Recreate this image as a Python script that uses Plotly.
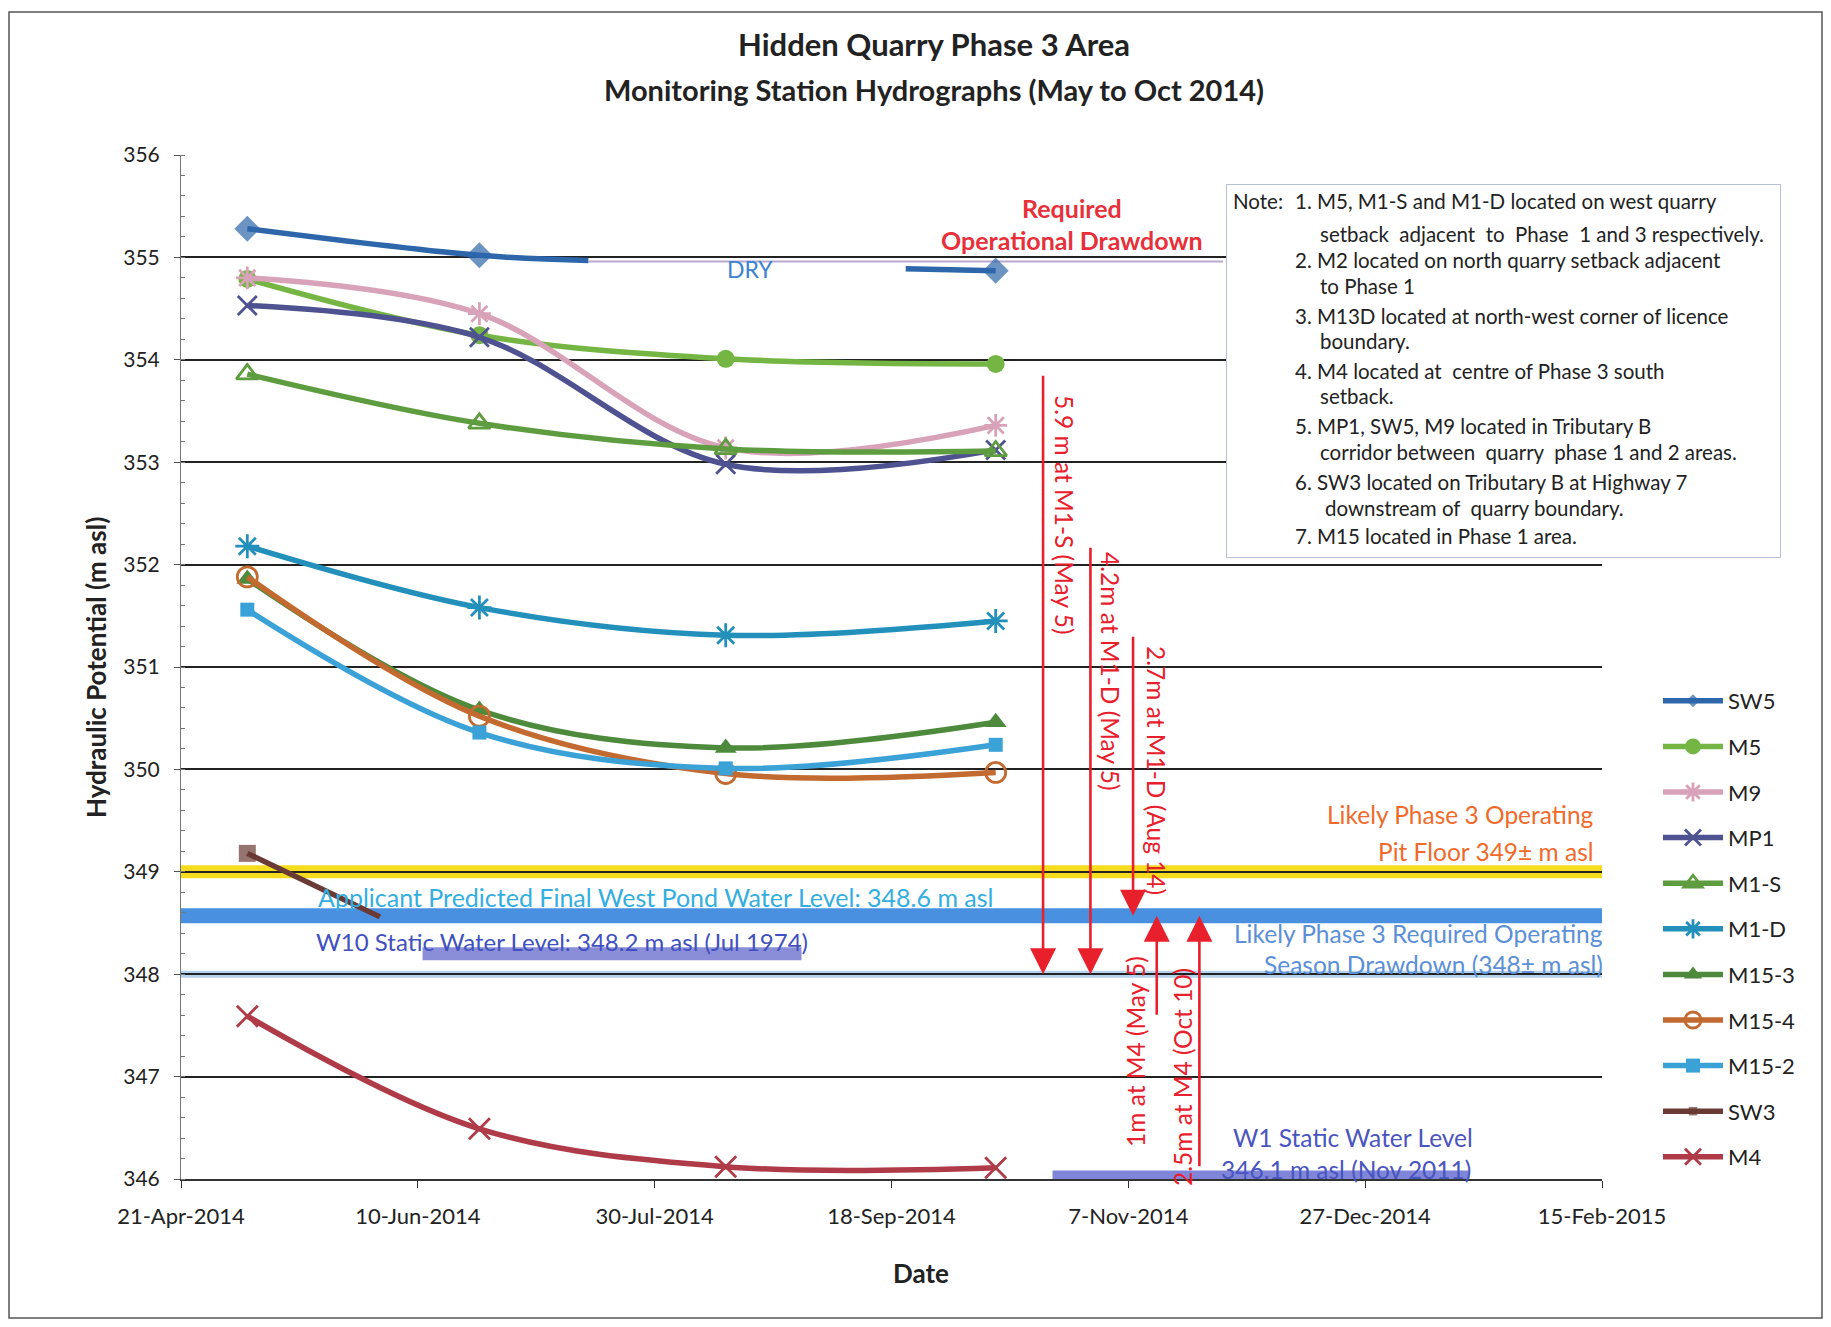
import plotly.graph_objects as go

# ---------------- data ----------------
DATES = ["2014-05-05", "2014-06-23", "2014-08-14", "2014-10-10"]

SW5_X = ["2014-05-05", "2014-06-23", "2014-07-16", None, "2014-09-21", "2014-10-10"]
SW5_Y = [355.28, 355.02, 354.97, None, 354.89, 354.87]
M5 = [354.79, 354.24, 354.01, 353.96]
M9 = [354.80, 354.45, 353.14, 353.36]
MP1 = [354.53, 354.22, 352.98, 353.12]
M1S = [353.86, 353.38, 353.13, 353.11]
M1D = [352.18, 351.58, 351.31, 351.45]
M15_3 = [351.86, 350.58, 350.21, 350.46]
M15_4 = [351.88, 350.52, 349.96, 349.97]
M15_2 = [351.56, 350.36, 350.01, 350.24]
SW3_X = ["2014-05-05", "2014-06-02"]
SW3_Y = [349.18, 348.56]
M4 = [347.59, 346.49, 346.12, 346.11]

# reference levels
PIT_FLOOR = 349.0
POND_LEVEL = 348.57
DRAWDOWN_LEVEL = 348.0
W10_LEVEL = 348.2
W10_X = ["2014-06-11", "2014-08-30"]
W1_LEVEL = 346.03
W1_X = ["2014-10-22", "2015-01-18"]
DRY_X = ["2014-07-16", "2014-11-27"]
DRY_Y = 354.96

# drawdown arrows: date, from, to
ARROW_X = ["2014-10-20", "2014-10-30", "2014-11-08", "2014-11-13", "2014-11-22"]
ARROW_FROM = [M1S[0], M1D[0], M1D[2], M4[0], M4[3]]
ARROW_TO = [DRAWDOWN_LEVEL, DRAWDOWN_LEVEL, POND_LEVEL, POND_LEVEL, POND_LEVEL]

X_TICKS = ["2014-04-21", "2014-06-10", "2014-07-30", "2014-09-18",
           "2014-11-07", "2014-12-27", "2015-02-15"]
X_TICK_TEXT = ["21-Apr-2014", "10-Jun-2014", "30-Jul-2014", "18-Sep-2014",
               "7-Nov-2014", "27-Dec-2014", "15-Feb-2015"]
Y_RANGE = [346, 356]

# ---------------- layout helpers ----------------
OFF = 8  # page body margin
PAGE_W, PAGE_H = 1831, 1327
PL, PR, PT, PB = 181, 1602, 155, 1179  # plot area in page pixels
W, H = PAGE_W - OFF, PAGE_H - OFF
FONT = "Lato"


def px(x):
    return (x - PL) / (PR - PL)


def py(y):
    return (PB - y) / (PB - PT)


fig = go.Figure()


def add_series(name, x, y, color, symbol, size, open_marker=False, lw=5.5,
               shape="spline", sizes=None):
    marker = dict(symbol=symbol, size=sizes if sizes is not None else size, color=color)
    if open_marker:
        marker["line"] = dict(color=color, width=2.8)
    else:
        marker["line"] = dict(width=0)
    fig.add_trace(go.Scatter(
        x=x, y=y, name=name, mode="lines+markers",
        line=dict(color=color, width=lw, shape=shape, smoothing=1.0),
        marker=marker, legendgroup=name, connectgaps=False))


sw5_sizes = [20 if d in DATES else 0 for d in SW5_X]
add_series("SW5", SW5_X, SW5_Y, "#2d66aa", "diamond", 20, sizes=sw5_sizes)
add_series("M5", DATES, M5, "#74b544", "circle", 18)
add_series("M9", DATES, M9, "#d8a2b8", "asterisk-open", 19, open_marker=True)
add_series("MP1", DATES, MP1, "#4f5290", "x-thin-open", 19, open_marker=True)
add_series("M1-S", DATES, M1S, "#5e9c40", "triangle-up-open", 19, open_marker=True)
add_series("M1-D", DATES, M1D, "#2290ba", "asterisk-open", 20, open_marker=True)
add_series("M15-3", DATES, M15_3, "#4e8a3b", "triangle-up", 19)
add_series("M15-4", DATES, M15_4, "#c26a30", "circle-open", 20, open_marker=True)
add_series("M15-2", DATES, M15_2, "#3ba2d8", "square", 14)
sw3_sizes = [17 if d in DATES else 0 for d in SW3_X]
add_series("SW3", SW3_X, SW3_Y, "#6a3b35", "square", 17, shape="linear", sizes=sw3_sizes)
add_series("M4", DATES, M4, "#b03b48", "x-thin-open", 21, open_marker=True)

# ---------------- bands (shapes) ----------------
shapes = []
shapes.append(dict(type="line", xref="x", yref="y", x0=DRY_X[0], x1=DRY_X[1],
                   y0=DRY_Y, y1=DRY_Y, line=dict(color="#b9a8d0", width=2), layer="between"))
shapes.append(dict(type="line", xref="paper", yref="y", x0=0, x1=1, y0=PIT_FLOOR, y1=PIT_FLOOR,
                   line=dict(color="#f5dc1e", width=13), layer="between"))
shapes.append(dict(type="line", xref="paper", yref="y", x0=0, x1=1, y0=PIT_FLOOR, y1=PIT_FLOOR,
                   line=dict(color="#a09030", width=1), layer="between"))
shapes.append(dict(type="line", xref="paper", yref="y", x0=0, x1=1, y0=POND_LEVEL, y1=POND_LEVEL,
                   line=dict(color="#4a90e0", width=15), layer="between"))
shapes.append(dict(type="line", xref="paper", yref="y", x0=0, x1=1, y0=DRAWDOWN_LEVEL,
                   y1=DRAWDOWN_LEVEL, line=dict(color="#b4d2ec", width=7), layer="between"))
shapes.append(dict(type="line", xref="paper", yref="y", x0=0, x1=1, y0=DRAWDOWN_LEVEL,
                   y1=DRAWDOWN_LEVEL, line=dict(color="#6a7a90", width=1.2), layer="between"))
shapes.append(dict(type="line", xref="x", yref="y", x0=W10_X[0], x1=W10_X[1], y0=W10_LEVEL,
                   y1=W10_LEVEL, line=dict(color="#8a8ed8", width=13), layer="between"))
shapes.append(dict(type="line", xref="x", yref="y", x0=W1_X[0], x1=W1_X[1], y0=W1_LEVEL,
                   y1=W1_LEVEL, line=dict(color="#7f86da", width=11), layer="between"))
shapes.append(dict(type="rect", xref="paper", yref="paper", x0=px(9), x1=px(1822),
                   y0=py(1318), y1=py(12), line=dict(color="#555", width=1.5), layer="below"))

# ---------------- annotations ----------------
ann = []


def text(x, y, s, size=20, color="#222", xanchor="center", bold=False, angle=0, yanchor="middle"):
    if bold:
        s = "<b>" + s + "</b>"
    ann.append(dict(x=px(x), y=py(y), xref="paper", yref="paper", text=s, showarrow=False,
                    xanchor=xanchor, yanchor=yanchor, textangle=angle,
                    font=dict(family=FONT, size=size, color=color)))


RED = "#e8202c"
# title
text(934, 44, "Hidden Quarry Phase 3 Area", 31, "#222", bold=True)
text(934, 89, "Monitoring Station Hydrographs (May to Oct 2014)", 29, "#222", bold=True)
# axis titles
text(96, 668, "Hydraulic Potential (m asl)", 26, "#222", bold=True, angle=-90)
text(921, 1273, "Date", 26, "#222", bold=True)

# labels in plot
text(750, 269, "DRY", 23, "#3c82d0")
text(1072, 208, "Required", 25, "#e8303a", bold=True)
text(1072, 240, "Operational Drawdown", 25, "#e8303a", bold=True)
text(1596, 814, "Likely Phase 3 Operating", 24.5, "#f26a2a", xanchor="right")
text(1596, 851, "Pit Floor 349\u00b1 m asl", 24.5, "#f26a2a", xanchor="right")
text(316, 897, "Applicant Predicted Final West Pond Water Level: 348.6 m asl", 25, "#33aee0",
     xanchor="left")
text(314, 941, "W10 Static Water Level: 348.2 m asl (Jul 1974)", 24, "#4050c0", xanchor="left")
text(1605, 933, "Likely Phase 3 Required Operating", 24.5, "#5b8fd8", xanchor="right")
text(1605, 964, "Season Drawdown (348\u00b1 m asl)", 24.5, "#5b8fd8", xanchor="right")
text(1353, 1137, "W1 Static Water Level", 24.5, "#4a55c0")
text(1346, 1169, "346.1 m asl (Nov 2011)", 24.5, "#4a55c0")

# arrows
for xa, y0, y1 in zip(ARROW_X, ARROW_FROM, ARROW_TO):
    ann.append(dict(x=xa, y=y1, ax=xa, ay=y0, xref="x", yref="y", axref="x", ayref="y",
                    text="", showarrow=True, arrowhead=2, arrowsize=2.0, arrowwidth=2.6,
                    arrowcolor=RED))

text(1065, 514, "5.9 m at M1-S (May 5)", 24.5, RED, angle=90)
text(1111, 671, "4.2m at M1-D (May 5)", 24.5, RED, angle=90)
text(1157, 770, "2.7m at M1-D (Aug 14)", 24.5, RED, angle=90)
text(1135, 1052, "1m at M4 (May 5)", 24.5, RED, angle=-90)
text(1182, 1077, "2.5m at M4 (Oct 10)", 24.5, RED, angle=-90)

# note box
ann.append(dict(x=px(1226), y=py(184), xref="paper", yref="paper", text=" ", showarrow=False,
                xanchor="left", yanchor="top", width=553, height=372, bgcolor="white",
                bordercolor="#b8c0d8", borderwidth=1, borderpad=0,
                font=dict(family=FONT, size=10)))
note_lines = [
    (1231, 201, "Note:"),
    (1293, 201, "1. M5, M1-S and M1-D located on west quarry"),
    (1318, 234, "setback  adjacent  to  Phase  1 and 3 respectively."),
    (1293, 260, "2. M2 located on north quarry setback adjacent"),
    (1318, 286, "to Phase 1"),
    (1293, 316, "3. M13D located at north-west corner of licence"),
    (1318, 341, "boundary."),
    (1293, 371, "4. M4 located at  centre of Phase 3 south"),
    (1318, 396, "setback."),
    (1293, 426, "5. MP1, SW5, M9 located in Tributary B"),
    (1318, 452, "corridor between  quarry  phase 1 and 2 areas."),
    (1293, 482, "6. SW3 located on Tributary B at Highway 7"),
    (1323, 508, "downstream of  quarry boundary."),
    (1293, 536, "7. M15 located in Phase 1 area."),
]
for nx, ny, s in note_lines:
    text(nx, ny, s.replace("  ", "\u00a0\u00a0"), 20.5, "#222", xanchor="left")

fig.update_layout(
    width=W, height=H,
    margin=dict(l=PL - OFF, r=W - (PR - OFF), t=PT - OFF, b=H - (PB - OFF), autoexpand=False),
    paper_bgcolor="white", plot_bgcolor="white",
    font=dict(family=FONT, size=20, color="#222"),
    showlegend=True,
    legend=dict(x=px(1658), y=py(680), xanchor="left", yanchor="top",
                font=dict(family=FONT, size=22, color="#222"),
                tracegroupgap=14, itemwidth=60, bgcolor="rgba(0,0,0,0)",
                traceorder="grouped"),
    shapes=shapes,
    annotations=ann,
    xaxis=dict(type="date", range=[X_TICKS[0], X_TICKS[-1]], tickmode="array",
               tickvals=X_TICKS, ticktext=X_TICK_TEXT, showgrid=False, zeroline=False,
               showline=True, linecolor="#333", linewidth=1.5, ticks="outside",
               ticklen=7, tickcolor="#333", tickfont=dict(size=22, family=FONT),
               ticklabelstandoff=10),
    yaxis=dict(range=Y_RANGE, dtick=1, tick0=346, showgrid=True, gridcolor="#222",
               gridwidth=1.8, zeroline=False, showline=True, linecolor="#777",
               linewidth=1, ticks="outside", ticklen=6, tickcolor="#555",
               tickfont=dict(size=21, family=FONT), ticklabelstandoff=10,
               minor=dict(ticks="inside", ticklen=4, dtick=0.2, tickcolor="#777",
                          showgrid=False)),
)

fig.write_html("out.html")
